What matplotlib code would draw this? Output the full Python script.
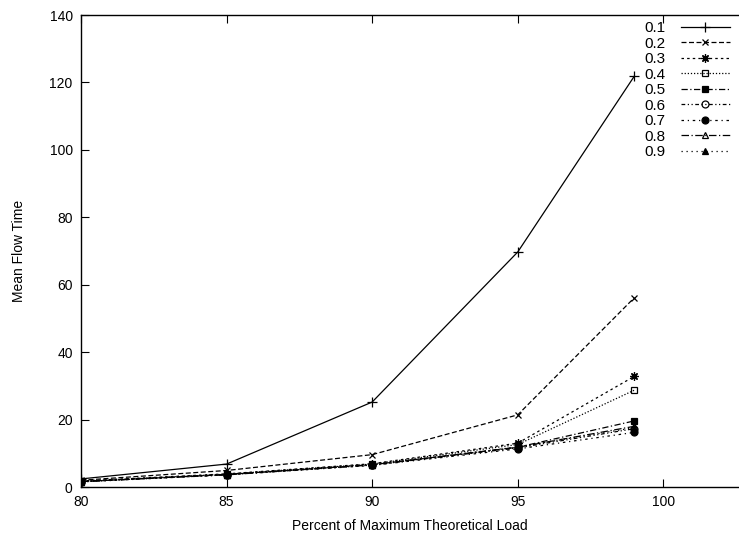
import matplotlib.pyplot as plt

plt.rcParams['font.family'] = ['Liberation Sans', 'DejaVu Sans']

# load level (x) and mean flow time per series
load = [80, 85, 90, 95, 99]
labels = ['0.1', '0.2', '0.3', '0.4', '0.5', '0.6', '0.7', '0.8', '0.9']
flow = {
    '0.1': [2.4, 6.8, 25.2, 69.7, 121.8],
    '0.2': [2.0, 4.9, 9.6, 21.4, 56.1],
    '0.3': [1.8, 3.9, 6.9, 13.0, 32.8],
    '0.4': [1.7, 3.8, 6.8, 12.6, 28.7],
    '0.5': [1.6, 3.7, 6.6, 11.8, 19.6],
    '0.6': [1.6, 3.6, 6.5, 11.6, 17.3],
    '0.7': [1.5, 3.6, 6.4, 11.3, 16.2],
    '0.8': [1.6, 3.7, 6.6, 11.8, 18.0],
    '0.9': [1.6, 3.7, 6.6, 11.9, 17.6],
}

styles = [
    dict(ls='-', marker='+', mfc='none', ms=7),
    dict(ls=(0, (4, 2)), marker='x', mfc='none', ms=5),
    dict(ls=(0, (2, 2.5)), marker=(8, 2, 0), mfc='none', ms=6),
    dict(ls=(0, (1, 1.5)), marker='s', mfc='none', ms=5),
    dict(ls=(0, (5, 2, 1, 2)), marker='s', mfc='black', ms=5),
    dict(ls=(0, (3, 2, 1, 2, 1, 2)), marker='o', mfc='none', ms=5),
    dict(ls=(0, (2, 3, 1, 3)), marker='o', mfc='black', ms=5),
    dict(ls=(0, (6, 2, 1, 2)), marker='^', mfc='none', ms=5),
    dict(ls=(0, (1, 3)), marker='^', mfc='black', ms=5),
]

fig = plt.figure(figsize=(7.39, 5.34), dpi=100)
ax = fig.add_axes([0.1096, 0.088, 0.8904, 0.8839])

for lab, st in zip(labels, styles):
    ax.plot(load, flow[lab], color='black', lw=0.9, mec='black', mew=0.9,
            label=lab, **st)

ax.set_xlim(80, 102.6)
ax.set_ylim(0, 140)
ax.set_xticks([80, 85, 90, 95, 100])
ax.set_yticks(range(0, 141, 20))
ax.tick_params(direction='in', length=6, width=0.8, top=True, right=False,
               labelsize=10, pad=6, colors='black')
ax.spines['right'].set_visible(False)
for s in ['left', 'bottom', 'top']:
    ax.spines[s].set_linewidth(1.0)

ax.set_xlabel('Percent of Maximum Theoretical Load', fontsize=10, labelpad=7)
ax.set_ylabel('Mean Flow Time', fontsize=10, labelpad=17)

leg = ax.legend(loc='upper right', bbox_to_anchor=(0.995, 1.0), frameon=False,
                markerfirst=False, handlelength=3.2, fontsize=11,
                labelspacing=0.1, handletextpad=1.0, borderaxespad=0)

fig.savefig('out.png', dpi=100)
